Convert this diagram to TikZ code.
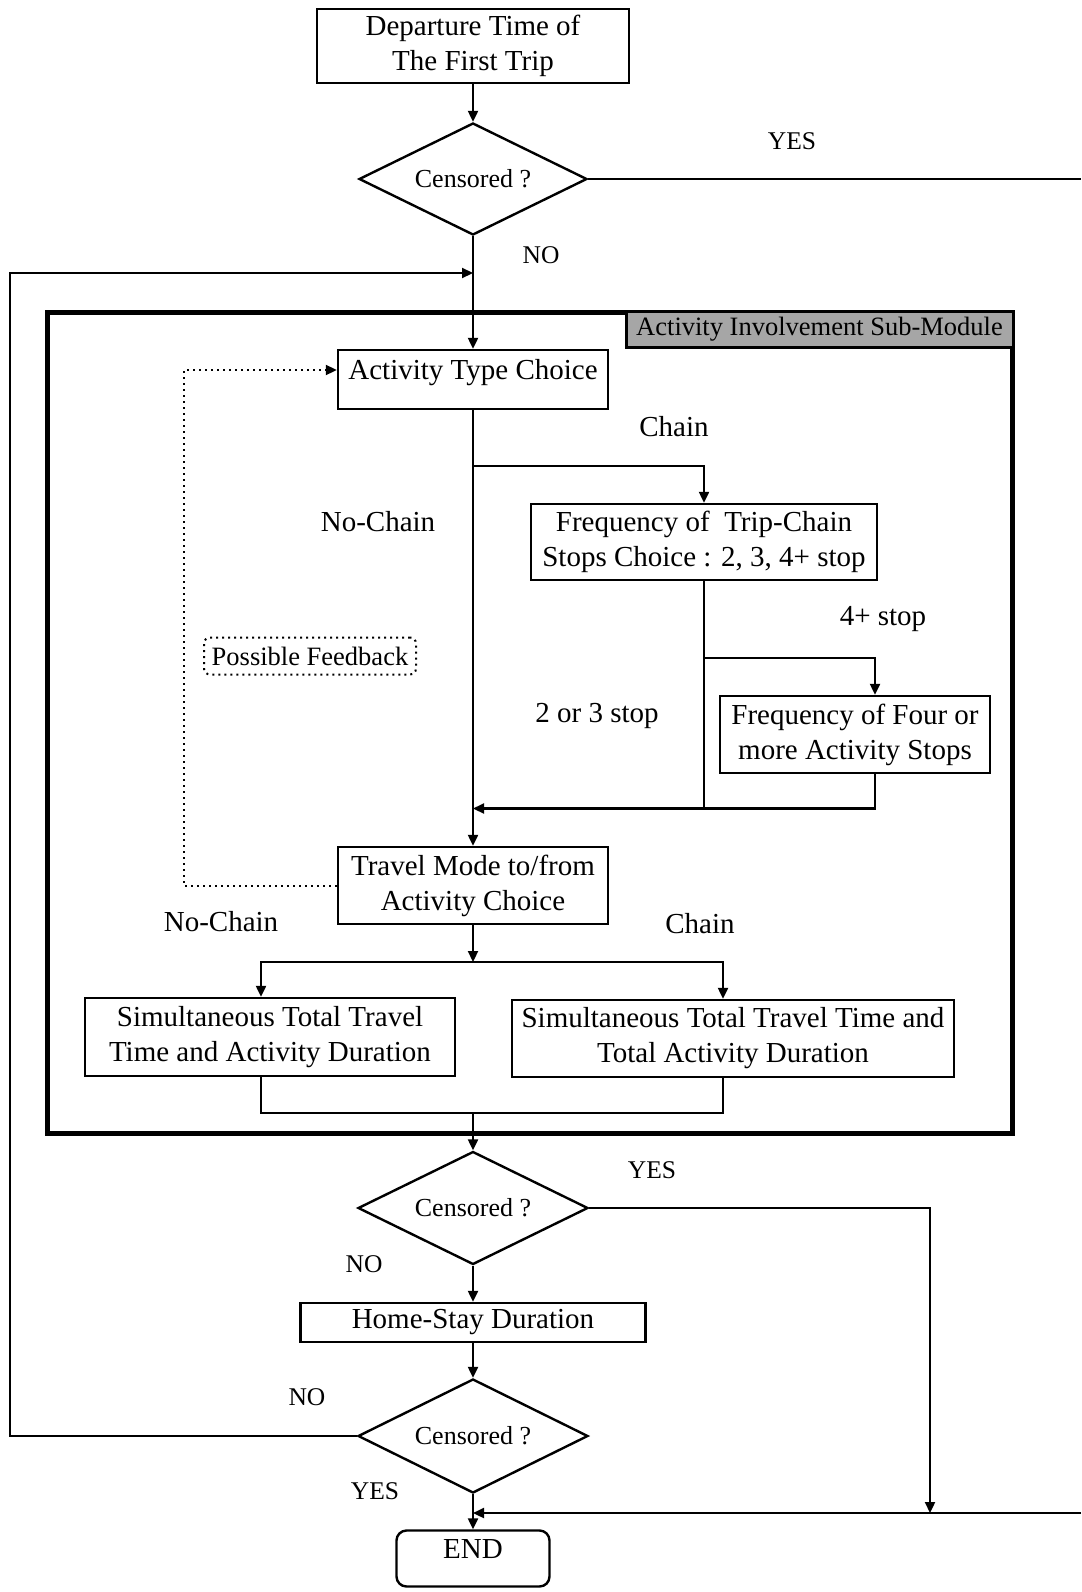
\documentclass[tikz,border=0pt]{standalone}
\usepackage{fontspec}
\setmainfont{Liberation Serif}
\usetikzlibrary{arrows.meta,shapes.geometric,calc}

\tikzset{
  box/.style={draw, line width=2.4pt, inner sep=0pt, align=center,
    font=\fontsize{29}{35}\selectfont},
  decision/.style={draw, diamond, aspect=2, line width=2.4pt, inner sep=0pt,
    font=\fontsize{26}{30}\selectfont},
  lbl/.style={font=\fontsize{25.5}{30}\selectfont, inner sep=0pt},
  blbl/.style={font=\fontsize{29}{35}\selectfont, inner sep=0pt},
  tip/.style={-{Triangle[length=11pt,width=10pt]}},
  flow/.style={line width=2.2pt, tip},
  wire/.style={line width=2.2pt},
  fb/.style={line width=2pt, dash pattern=on 2pt off 4pt},
  raised/.style={text height=15pt, text depth=15pt},
}

\begin{document}
\begin{tikzpicture}[x=1pt,y=-1pt]
\useasboundingbox[fill=white] (0,0) rectangle (1081,1592);

% ---- top of the flow ----
\node[box, minimum width=312pt, minimum height=74pt] (dep) at (473,46)
  {Departure Time of\\The First Trip};
\node[decision, minimum width=228pt, minimum height=112pt] (d1) at (473,179) {Censored ?};
\coordinate (rtop) at (1081,179);
\coordinate (loopin) at (473,273);
\coordinate (lc) at (10,273);

% ---- sub-module frame ----
\node[draw, line width=5pt, minimum width=965pt, minimum height=821pt, inner sep=0pt]
  (mod) at (529.5,722.5) {};
\node[draw, line width=3pt, fill=black!35, anchor=north east, minimum width=387pt,
  minimum height=36pt, inner sep=0pt, font=\fontsize{26.5}{30}\selectfont]
  (modlbl) at (mod.north east) {Activity Involvement Sub-Module};

\node[box, raised, minimum width=270pt, minimum height=59pt] (atc) at (473,379.5)
  {Activity Type Choice};
\node[box, minimum width=346pt, minimum height=76pt] (ftc) at (704,542)
  {Frequency of\ \ Trip-Chain\\Stops Choice : 2, 3, 4+ stop};
\node[box, minimum width=270pt, minimum height=77pt] (ff) at (855,734.5)
  {Frequency of Four or\\more Activity Stops};
\node[box, minimum width=270pt, minimum height=77pt] (tm) at (473,885.5)
  {Travel Mode to/from\\Activity Choice};
\node[box, minimum width=370pt, minimum height=78pt] (sl) at (270,1037)
  {Simultaneous Total Travel\\Time and Activity Duration};
\node[box, minimum width=442pt, minimum height=77pt] (sr) at (733,1038.5)
  {Simultaneous Total Travel Time and\\Total Activity Duration};
\node[draw, fb, rounded corners=6pt, minimum width=212pt, minimum height=37pt,
  inner sep=0pt, font=\fontsize{26.5}{30}\selectfont] (pf) at (310,656)
  {Possible Feedback};

% ---- bottom of the flow ----
\node[decision, minimum width=230pt, minimum height=113pt] (d2) at (473,1208) {Censored ?};
\node[box, minimum width=345pt, minimum height=39pt] (home) at (473,1322.5)
  {Home-Stay Duration};
\node[decision, minimum width=230pt, minimum height=114pt] (d3) at (473,1436) {Censored ?};
\node[box, raised, rounded corners=10pt, minimum width=153pt, minimum height=56pt]
  (endn) at (473,1558.5) {END};

% ---- junction points ----
\coordinate (br1) at (473,466);
\coordinate (br2) at (704,658);
\coordinate (br3) at (704,808.5);
\coordinate (j2) at (473,808.5);
\coordinate (ffin) at ([xshift=20pt]ff.north);
\coordinate (ffout) at ([xshift=20pt]ff.south);
\coordinate (br4) at (473,962);
\coordinate (slin) at ([xshift=-9pt]sl.north);
\coordinate (slout) at ([xshift=-9pt]sl.south);
\coordinate (srin) at ([xshift=-10pt]sr.north);
\coordinate (srout) at ([xshift=-10pt]sr.south);
\coordinate (br5) at (473,1113);
\coordinate (brr) at (723,1113);
\coordinate (yj) at (930,1513);
\coordinate (ej) at (473,1513);
\coordinate (rbot) at (1081,1513);

% ---- connectors ----
\draw[flow] (dep) -- (d1);
\draw[wire] (d1.east) -- (rtop);
\draw[flow] (d1) -- (atc);
\draw[flow] (d3.west) -| (lc) -- (loopin);

\draw[flow] (atc) -- (tm);
\draw[flow] (br1) -| (ftc.north);
\draw[flow] (ftc.south) |- (j2);
\draw[flow] (br2) -| (ffin);
\draw[wire] (ffout) |- (br3);
\draw[fb] (tm.west) -- ++(-153,0) |- ([yshift=9.5pt]atc.west);
\draw[tip, line width=2pt] ([yshift=9.5pt, xshift=-8pt]atc.west) -- ([yshift=9.5pt]atc.west);

\draw[flow] (tm) -- (br4);
\draw[flow] (br4) -| (slin);
\draw[flow] (br4) -| (srin);
\draw[wire] (slout) |- (brr) -- (srout);
\draw[flow] (br5) -- (d2);

\draw[flow] (d2.east) -| (yj);
\draw[flow] (d2) -- (home);
\draw[flow] (home) -- (d3);
\draw[flow] (d3) -- (endn);
\draw[flow] (rbot) -- (ej);

% ---- branch labels ----
\node[lbl] (yes1) at (792,141) {YES};
\node[lbl] (no1) at (541,255) {NO};
\node[blbl] (chain1) at (674,427) {Chain};
\node[blbl] (nochain1) at (378,522) {No-Chain};
\node[blbl] (four) at (883,619) {4+ stop};
\node[blbl] (twothree) at (597,716) {2 or 3 stop};
\node[blbl] (nochain2) at (221,922) {No-Chain};
\node[blbl] (chain2) at (700,924) {Chain};
\node[lbl] (yes2) at (652,1170) {YES};
\node[lbl] (no2) at (364,1264) {NO};
\node[lbl] (no3) at (307,1397) {NO};
\node[lbl] (yes3) at (375,1491) {YES};
\end{tikzpicture}
\end{document}
